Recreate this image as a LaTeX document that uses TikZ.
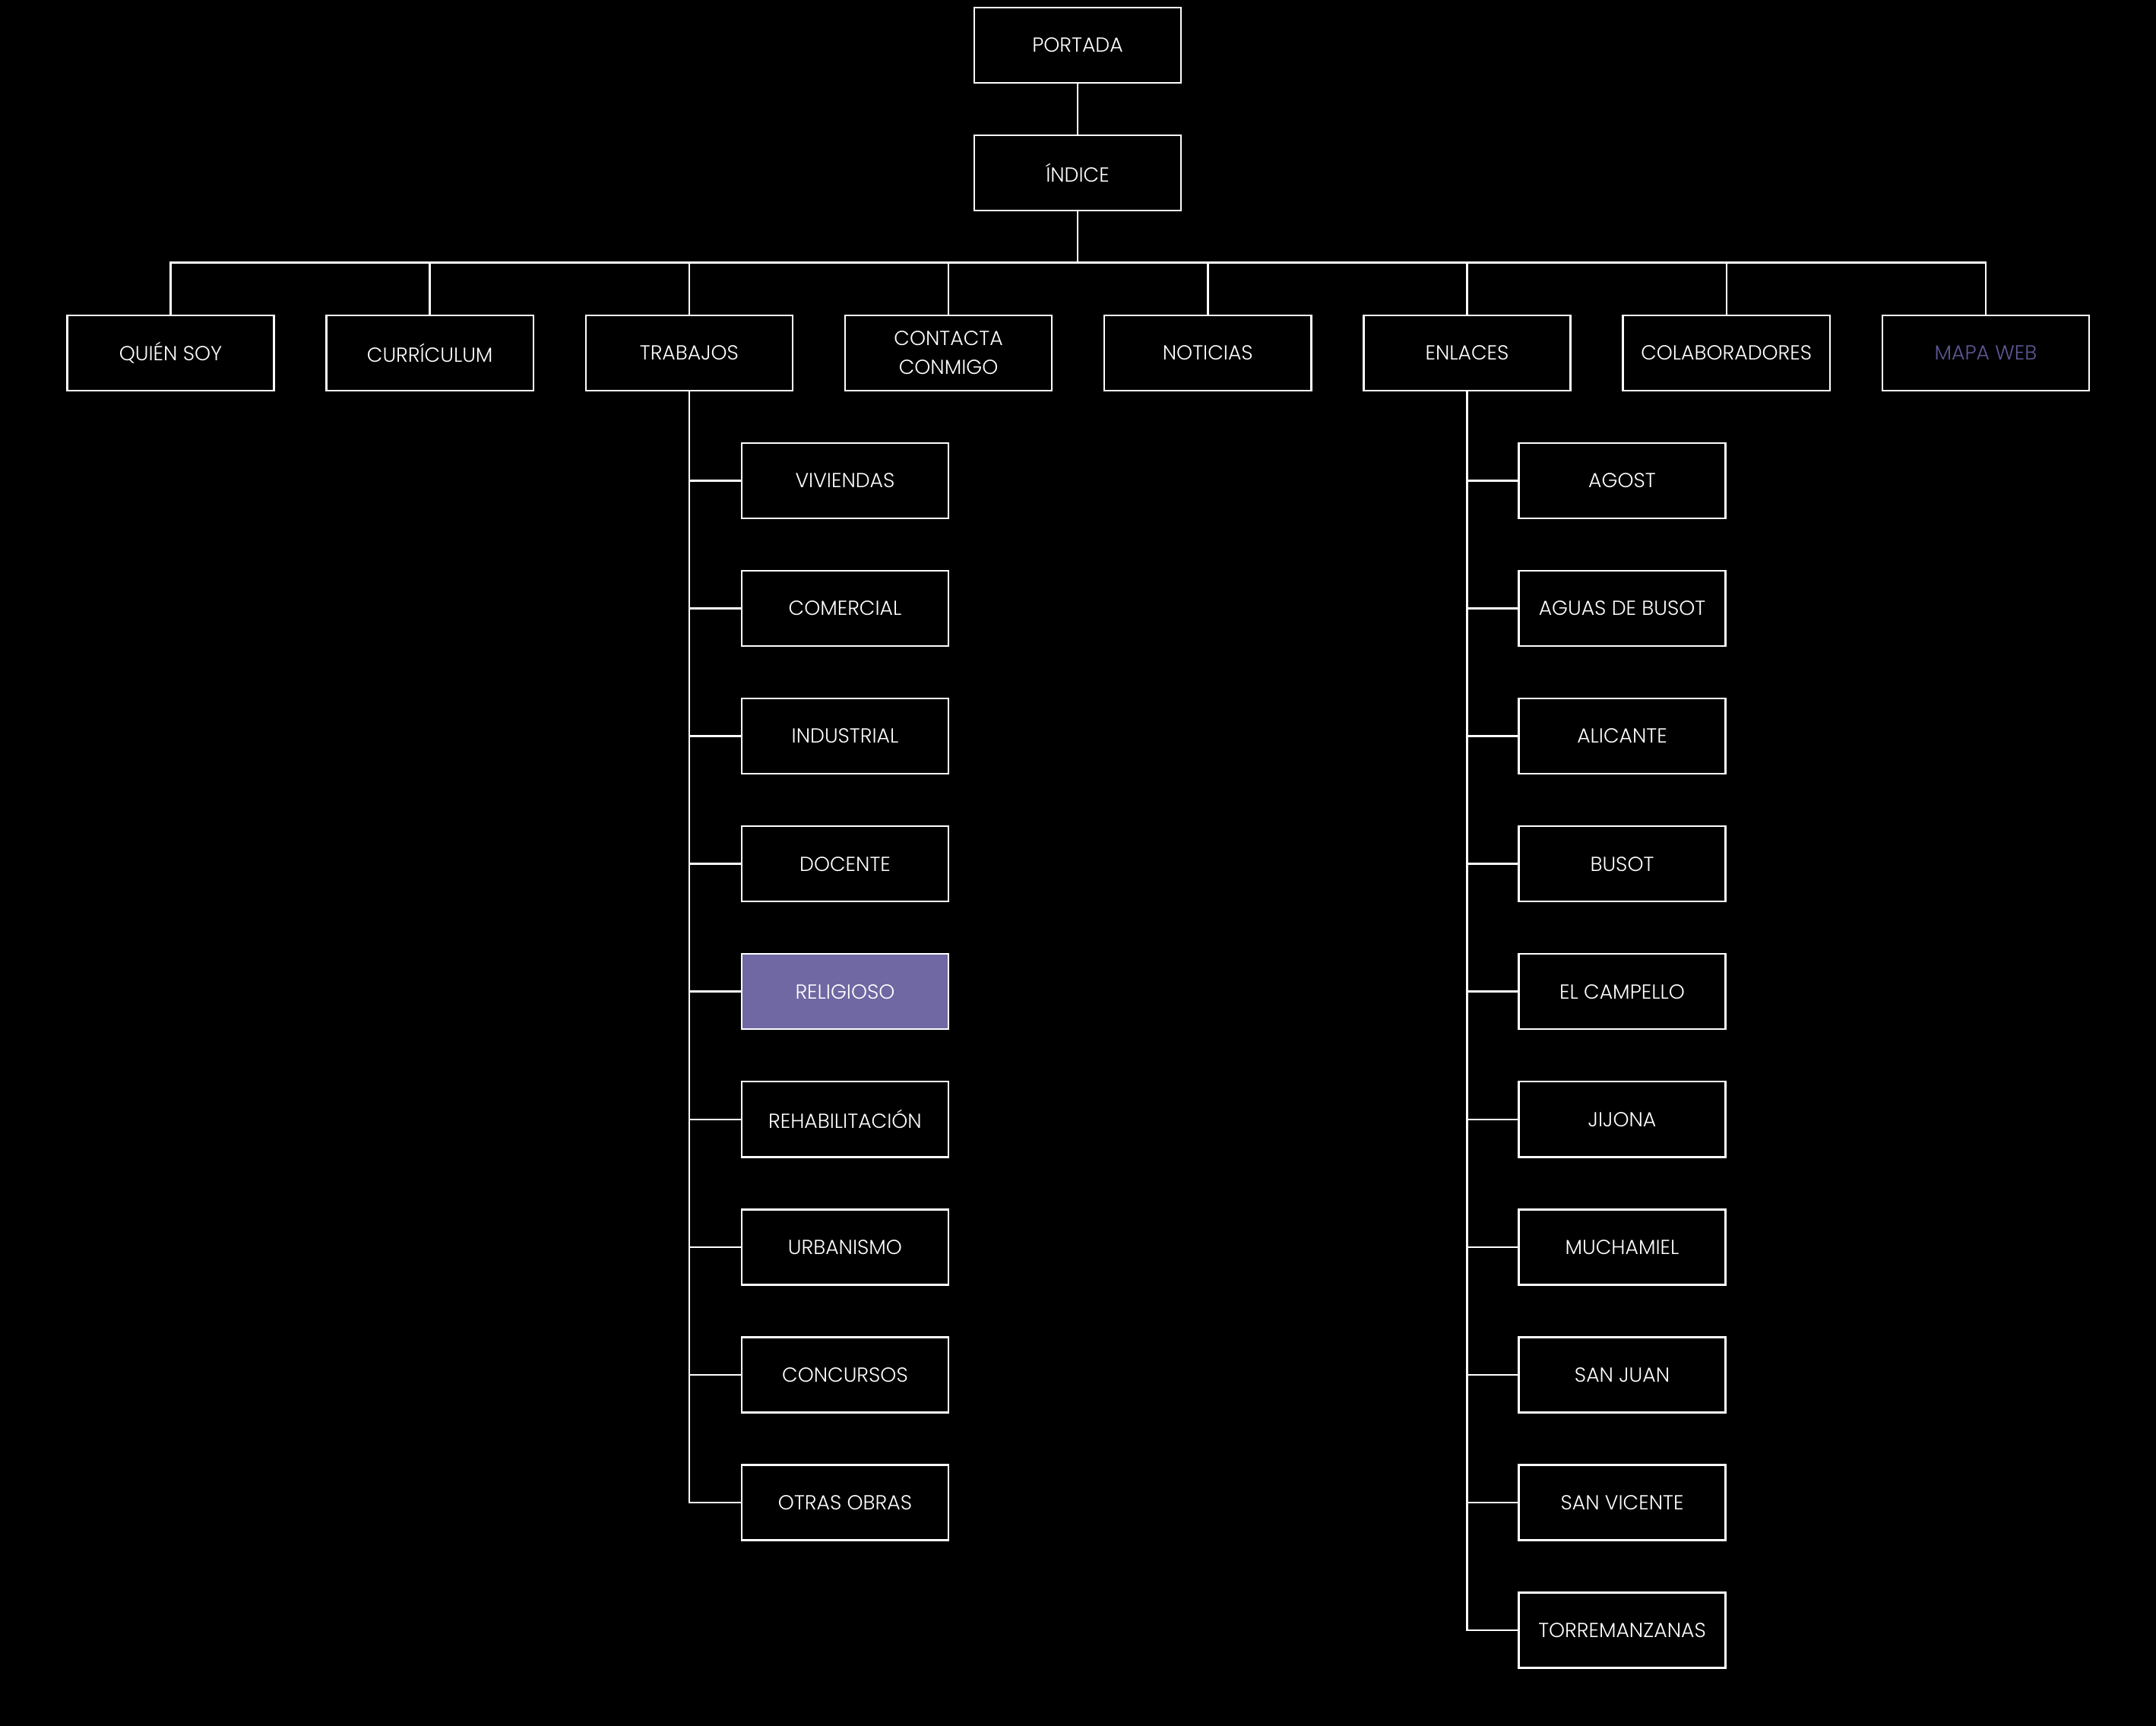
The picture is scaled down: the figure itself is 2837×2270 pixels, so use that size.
\documentclass[tikz,border=0pt]{standalone}
\usepackage{fontspec}
\setmainfont{Poppins}[UprightFont=* Light]
\definecolor{relig}{RGB}{111,104,163}
\definecolor{mapa}{RGB}{94,88,150}
\begin{document}
\begin{tikzpicture}[x=0.01cm,y=-0.01cm,
  box/.style={draw=white,line width=0.7pt,minimum width=2.72cm,minimum height=0.99cm,
    text=white,font=\fontsize{7.6}{10.8}\selectfont,inner sep=0pt,align=center},
  conn/.style={draw=white,line width=0.7pt}]
\useasboundingbox (0,0) rectangle (2837,2270);
\fill[black] (-20,-20) rectangle (2857,2290);
\node[box] (portada) at (1418,59.5) {PORTADA};
\node[box] (indice) at (1418,227.5) {ÍNDICE};
\coordinate (bus) at (1418,345.7);
\foreach \n/\x/\t in {quien/224.5/QUIÉN SOY, curr/565.7/CURRÍCULUM, trabajos/906.9/TRABAJOS,
  contacta/1248.1/{CONTACTA\\CONMIGO}, noticias/1589.3/NOTICIAS, enlaces/1930.5/ENLACES,
  colab/2271.7/COLABORADORES}
  \node[box] (\n) at (\x,464.5) {\t};
\node[box,text=mapa] (mapaweb) at (2612.9,464.5) {MAPA WEB};
\draw[conn] (portada) -- (indice);
\foreach \n in {quien,curr,trabajos,contacta,noticias,enlaces,colab,mapaweb}
  \draw[conn] (indice.south) -- (indice.south |- bus) -| (\n.north);
% TRABAJOS children
\foreach \n/\i/\t in {viv/0/VIVIENDAS, com/1/COMERCIAL, ind/2/INDUSTRIAL, doc/3/DOCENTE,
  reh/5/REHABILITACIÓN, urb/6/URBANISMO, conc/7/CONCURSOS, otras/8/OTRAS OBRAS}
  \node[box] (\n) at (1112,632.5+168.05*\i) {\t};
\node[box,fill=relig] (rel) at (1112,632.5+168.05*4) {RELIGIOSO};
\foreach \n in {viv,com,ind,doc,rel,reh,urb,conc,otras}
  \draw[conn] (trabajos.south) |- (\n.west);
% ENLACES children
\foreach \n/\i/\t in {agost/0/AGOST, aguas/1/AGUAS DE BUSOT, alic/2/ALICANTE, busot/3/BUSOT,
  camp/4/EL CAMPELLO, jij/5/JIJONA, much/6/MUCHAMIEL, sj/7/SAN JUAN, sv/8/SAN VICENTE,
  torre/9/TORREMANZANAS}
  \node[box] (\n) at (2134.5,632.5+168.05*\i) {\t};
\foreach \n in {agost,aguas,alic,busot,camp,jij,much,sj,sv,torre}
  \draw[conn] (enlaces.south) |- (\n.west);
\end{tikzpicture}
\end{document}
